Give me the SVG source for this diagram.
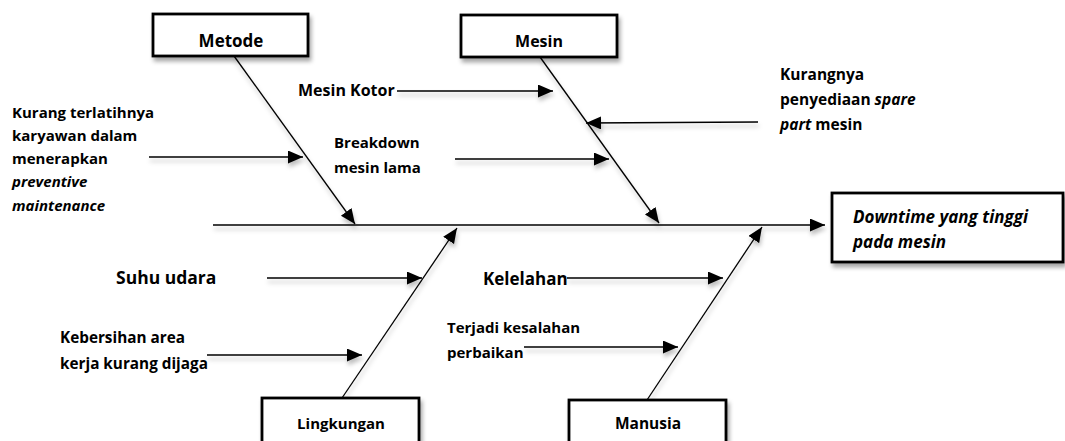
<svg xmlns="http://www.w3.org/2000/svg" width="1065" height="441" viewBox="0 0 1065 441">
<defs>
<filter id="sh" x="-20%" y="-20%" width="140%" height="160%">
<feDropShadow dx="2" dy="4" stdDeviation="2" flood-color="#000" flood-opacity="0.35"/>
</filter>
<filter id="lsh" x="-5%" y="-50%" width="110%" height="300%">
<feDropShadow dx="1" dy="4" stdDeviation="2" flood-color="#000" flood-opacity="0.25"/>
</filter>
<marker id="ah" markerUnits="userSpaceOnUse" markerWidth="16" markerHeight="14" refX="15" refY="6.5" orient="auto">
<path d="M0,0 L15,6.5 L0,13 Z" fill="#000"/>
</marker>
</defs>
<style>
.box{fill:#fff;stroke:#000;stroke-width:2.8}
.ln{stroke:#000;stroke-width:1.3;fill:none;marker-end:url(#ah)}
.t{font-family:"Open Sans","Liberation Sans",sans-serif;font-weight:bold;font-size:15px;fill:#000}
.i{font-style:italic}
</style>
<rect width="1065" height="441" fill="#fff"/>
<g id="connectors" filter="url(#lsh)">
<line class="ln" x1="213" y1="225" x2="825" y2="225"/>
<line class="ln" x1="234" y1="56" x2="355" y2="224"/>
<line class="ln" x1="540" y1="57" x2="659" y2="223"/>
<line class="ln" x1="342" y1="398" x2="457" y2="228"/>
<line class="ln" x1="647" y1="400" x2="762" y2="227"/>
<line class="ln" x1="397" y1="91" x2="553" y2="91"/>
<line class="ln" x1="758" y1="122" x2="586" y2="123"/>
<line class="ln" x1="455" y1="159" x2="609" y2="159"/>
<line class="ln" x1="149" y1="157" x2="303" y2="157"/>
<line class="ln" x1="267" y1="278" x2="422" y2="278"/>
<line class="ln" x1="207" y1="355" x2="362" y2="355"/>
<line class="ln" x1="567" y1="278" x2="723" y2="278"/>
<line class="ln" x1="524" y1="347" x2="678" y2="347"/>
</g>
<g id="metode">
<rect class="box" x="153" y="14" width="155" height="42" filter="url(#sh)"/>
<text class="t" x="231" y="47" text-anchor="middle" style="font-size:17px">Metode</text>
</g>
<g id="mesin">
<rect class="box" x="461" y="15" width="156" height="42" filter="url(#sh)"/>
<text class="t" x="539" y="47" text-anchor="middle" style="font-size:16px">Mesin</text>
</g>
<g id="downtime">
<rect class="box" x="832" y="193" width="231" height="69" filter="url(#sh)"/>
<text class="t i" x="853" y="223" style="font-size:17px">Downtime yang tinggi</text>
<text class="t i" x="853" y="248" style="font-size:17px">pada mesin</text>
</g>
<g id="lingkungan">
<rect class="box" x="262" y="398" width="157" height="50" filter="url(#sh)"/>
<text class="t" x="341" y="429" text-anchor="middle">Lingkungan</text>
</g>
<g id="manusia">
<rect class="box" x="569" y="400" width="157" height="50" filter="url(#sh)"/>
<text class="t" x="648" y="429" text-anchor="middle" style="font-size:15.5px">Manusia</text>
</g>
<g id="mesin-kotor">
<text class="t" x="298" y="96" style="font-size:16px">Mesin Kotor</text>
</g>
<g id="kurangnya">
<text class="t" x="780" y="80" style="font-size:15.5px">Kurangnya</text>
<text class="t" x="780" y="105" style="font-size:15.5px">penyediaan <tspan class="i">spare</tspan></text>
<text class="t" x="780" y="130" style="font-size:15.5px"><tspan class="i">part</tspan> mesin</text>
</g>
<g id="breakdown">
<text class="t" x="334" y="148">Breakdown</text>
<text class="t" x="334" y="173">mesin lama</text>
</g>
<g id="kurang-terlatih">
<text class="t" x="12" y="118">Kurang terlatihnya</text>
<text class="t" x="12" y="141">karyawan dalam</text>
<text class="t" x="12" y="164">menerapkan</text>
<text class="t i" x="12" y="187">preventive</text>
<text class="t i" x="12" y="211">maintenance</text>
</g>
<g id="suhu">
<text class="t" x="116" y="284" style="font-size:17.5px">Suhu udara</text>
</g>
<g id="kebersihan">
<text class="t" x="60" y="343" style="font-size:15.3px">Kebersihan area</text>
<text class="t" x="60" y="369" style="font-size:15.3px">kerja kurang dijaga</text>
</g>
<g id="kelelahan">
<text class="t" x="483" y="285" style="font-size:17px">Kelelahan</text>
</g>
<g id="terjadi">
<text class="t" x="447" y="333">Terjadi kesalahan</text>
<text class="t" x="447" y="358">perbaikan</text>
</g>
</svg>
